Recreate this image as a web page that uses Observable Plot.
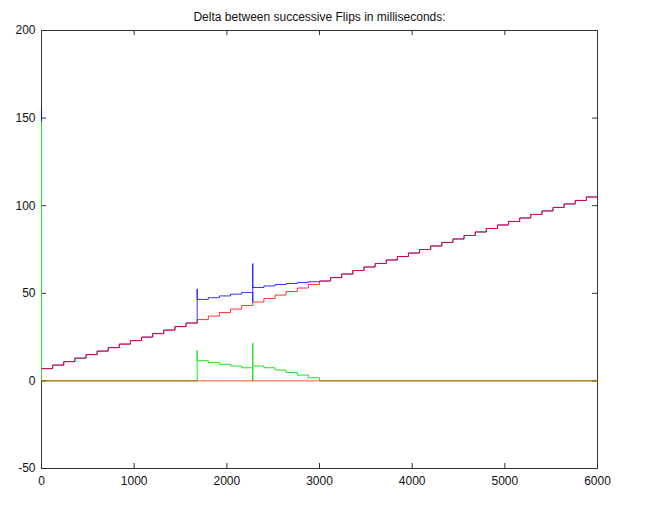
<!DOCTYPE html>
<html><head><meta charset="utf-8">
<script src="https://cdn.jsdelivr.net/npm/d3@7"></script>
<script src="https://cdn.jsdelivr.net/npm/@observablehq/plot@0.6"></script>
<style>body{margin:0;background:#fff}</style>
</head><body><div id="chart"></div>
<script>
const title = "Delta between successive Flips in milliseconds:";
const xTicks = [0, 1000, 2000, 3000, 4000, 5000, 6000];
const yTicks = [-50, 0, 50, 100, 150, 200];

const redX = [0,120,240,360,480,600,720,840,960,1080,1200,1320,1440,1560,1680,1800,1920,2040,2160,2280,2400,2520,2640,2760,2880,3000,3120,3240,3360,3480,3600,3720,3840,3960,4080,4200,4320,4440,4560,4680,4800,4920,5040,5160,5280,5400,5520,5640,5760,5880,6000];
const redY = [7,9,11,13,15,17,19,21,23,25,27,29,31,33,35,37,39,41,43,45,47,49,51,53,55,57,59,61,63,65,67,69,71,73,75,77,79,81,83,85,87,89,91,93,95,97,99,101,103,105,105];

const blueX = [0,0,120,240,360,480,600,720,840,960,1080,1200,1320,1440,1560,1680,1680,1800,1920,2040,2160,2280,2280,2280,2400,2520,2640,2760,2880,3000,3120,3240,3360,3480,3600,3720,3840,3960,4080,4200,4320,4440,4560,4680,4800,4920,5040,5160,5280,5400,5520,5640,5760,5880,6000];
const blueY = [155,7,9,11,13,15,17,19,21,23,25,27,29,31,33,52.5,46.5,47.5,48.5,49.5,50.5,45,67,53.3,54.2,55,55.6,56.2,56.6,57,59,61,63,65,67,69,71,73,75,77,79,81,83,85,87,89,91,93,95,97,99,101,103,105,105];

const greenX = [0,0,1680,1680,1800,1920,2040,2160,2280,2280,2280,2400,2520,2640,2760,2880,3000,6000];
const greenY = [148,0,17.5,11.5,10.5,9.5,8.5,7.5,0,21.5,8.5,7.5,6.2,4.8,3.3,1.8,0,0];

const zeroX = [0, 6000];
const zeroY = [0, 0];

const pts = (xs, ys) => xs.map((x, i) => ({x, y: ys[i]}));
const frameH = 505 - 30 - 37;
const frameW = 650 - 41 - 53;
const axisColor = "#333";

const chart = Plot.plot({
  width: 650, height: 505,
  marginLeft: 41, marginRight: 53, marginTop: 30, marginBottom: 37,
  x: {domain: [0, 6000]},
  y: {domain: [-50, 200]},
  style: {fontFamily: "'Liberation Sans', Arial, sans-serif", fontSize: "12px", background: "white", color: "#111"},
  marks: [
    Plot.frame({stroke: axisColor}),
    Plot.tickX(xTicks, {x: d => d, insetTop: frameH - 5, stroke: axisColor}),
    Plot.tickX(xTicks, {x: d => d, insetBottom: frameH - 5, stroke: axisColor}),
    Plot.tickY(yTicks, {y: d => d, insetRight: frameW - 5, stroke: axisColor}),
    Plot.tickY(yTicks, {y: d => d, insetLeft: frameW - 5, stroke: axisColor}),
    Plot.axisX({ticks: xTicks, tickSize: 0, tickPadding: 8, tickFormat: d => String(d), label: null}),
    Plot.axisY({ticks: yTicks, tickSize: 0, tickPadding: 6, tickFormat: d => String(d), label: null}),
    Plot.line(pts(blueX, blueY), {x: "x", y: "y", curve: "step-after", stroke: "#0000ff", strokeOpacity: 0.8, strokeWidth: 1}),
    Plot.line(pts(greenX, greenY), {x: "x", y: "y", curve: "step-after", stroke: "#22dd22", strokeWidth: 1}),
    Plot.line(pts(redX, redY), {x: "x", y: "y", curve: "step-after", stroke: "#ff0000", strokeOpacity: 0.8, strokeWidth: 1}),
    Plot.line(pts(zeroX, zeroY), {x: "x", y: "y", stroke: "#ff2a00", strokeOpacity: 0.8, strokeWidth: 1}),
    Plot.text([title], {frameAnchor: "top", dy: -18, text: d => d, fontSize: 12, fill: "#111"})
  ]
});
document.getElementById("chart").append(chart);
</script>
</body></html>
